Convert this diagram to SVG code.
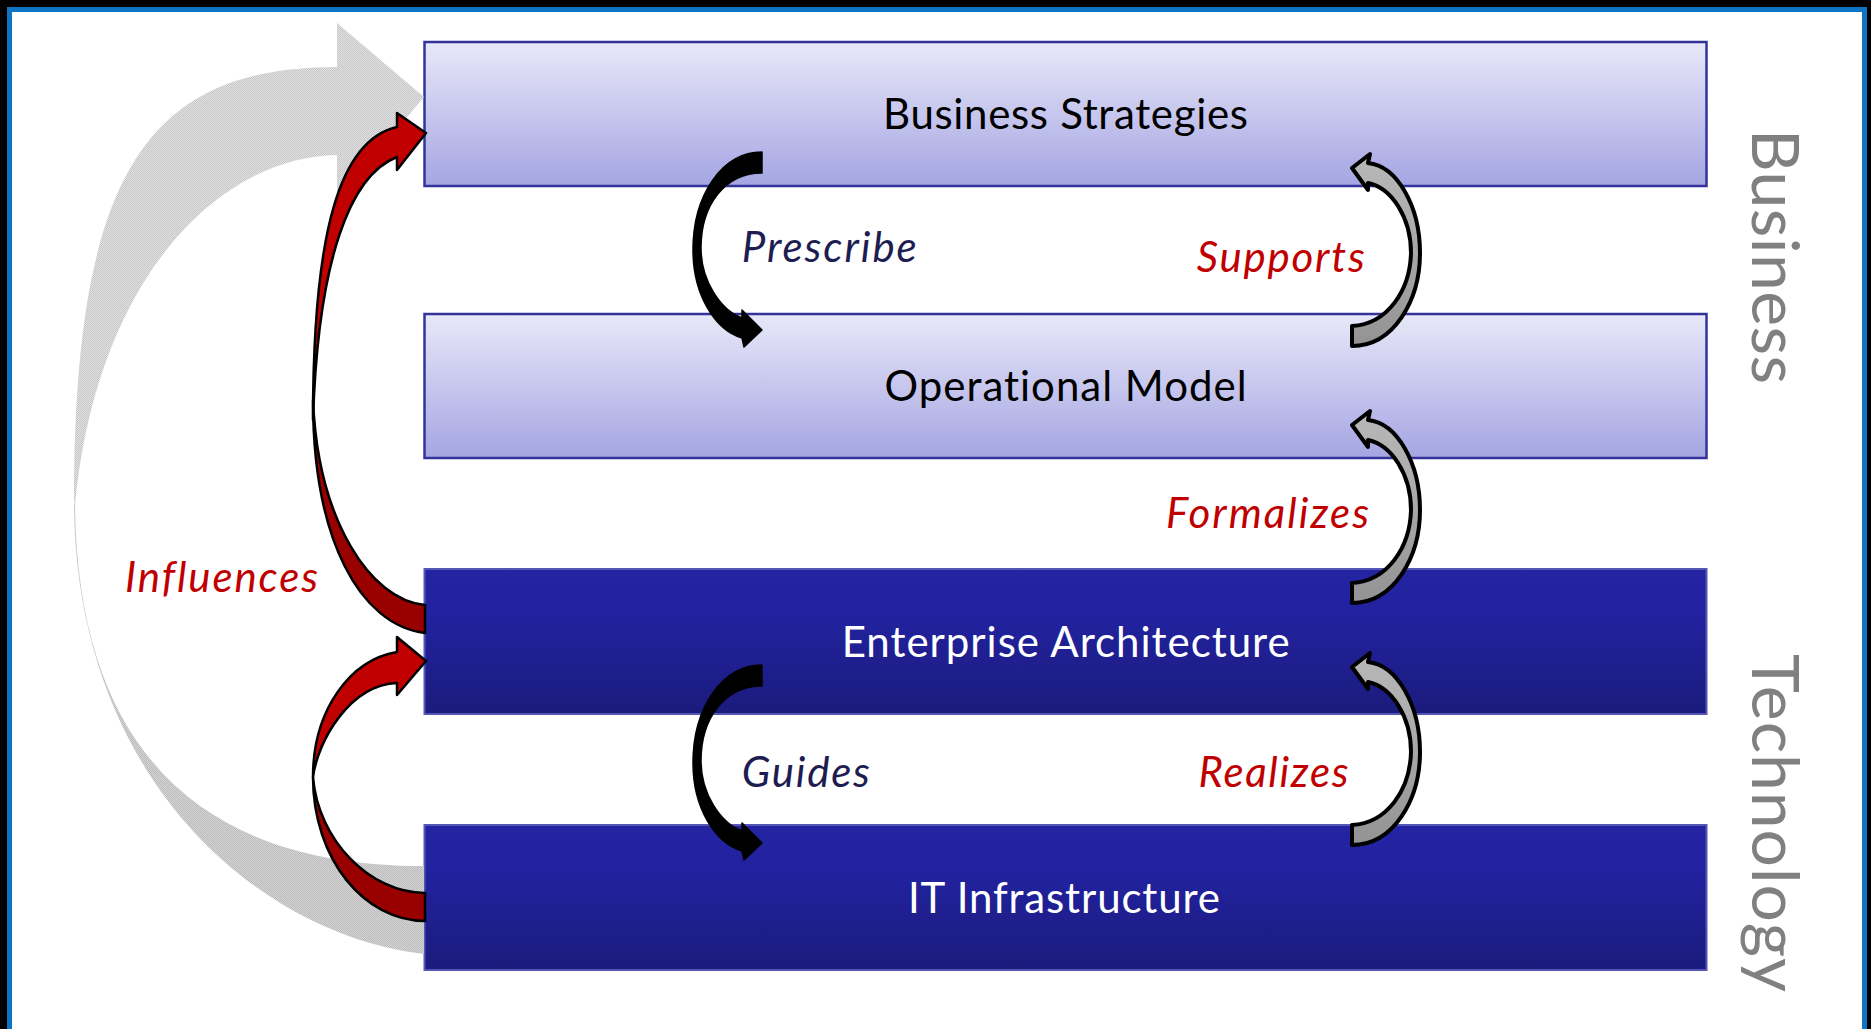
<svg xmlns="http://www.w3.org/2000/svg" width="1871" height="1029" viewBox="0 0 1871 1029">
<defs>
<style>
text{font-variant-ligatures:none}
.box-text{font-family:Lato,"Liberation Sans",sans-serif;font-size:42px}
.lbl{font-family:Lato,"Liberation Sans",sans-serif;font-size:42px;font-style:italic}
.navy{fill:#1d1d52}
.red{fill:#c00000}
.side{font-family:Lato,"Liberation Sans",sans-serif;font-size:66px;fill:#808080}
.light{stroke:#333399;stroke-width:2.5}
.dark{stroke:#5555b5;stroke-width:2}
.redarrow{stroke:#000;stroke-width:2.5;stroke-linejoin:round}
.blk{fill:#000;stroke:#000;stroke-width:1.5;stroke-linejoin:round}
.gry{fill:url(#grayGrad);stroke:#000;stroke-width:4;stroke-linejoin:round}
</style>
<linearGradient id="lightGrad" x1="0" y1="0" x2="0" y2="1">
<stop offset="0" stop-color="#e8e8f9"/>
<stop offset="1" stop-color="#a5a5e3"/>
</linearGradient>
<linearGradient id="darkGrad" x1="0" y1="0" x2="0" y2="1">
<stop offset="0" stop-color="#2424a3"/>
<stop offset="0.3" stop-color="#2222a0"/>
<stop offset="1" stop-color="#1b1b7d"/>
</linearGradient>
<linearGradient id="grayGrad" x1="0" y1="0" x2="0" y2="1">
<stop offset="0" stop-color="#b8b8b8"/>
<stop offset="0.5" stop-color="#a8a8a8"/>
<stop offset="1" stop-color="#939393"/>
</linearGradient>
<pattern id="dotsLight" width="2" height="2" patternUnits="userSpaceOnUse">
<rect width="2" height="2" fill="#e2e2e2"/>
<rect width="1" height="1" fill="#c6c6c6"/>
<rect x="1" y="1" width="1" height="1" fill="#c6c6c6"/>
</pattern>
<pattern id="dotsDark" width="2" height="2" patternUnits="userSpaceOnUse">
<rect width="2" height="2" fill="#d6d6d6"/>
<rect width="1" height="1" fill="#bababa"/>
<rect x="1" y="1" width="1" height="1" fill="#bababa"/>
</pattern>
<path id="grayArrow" d="M 16,-5 C 45,-2 68,38 68,85 C 68,132 42,178 0,178 L 0,158 C 36,156 58,122 59,85 C 59,50 40,20 16,15 L 16,22 L 0,0 L 18,-14 Z"/>
<path id="blackArrow" d="M 762,152 C 722,152 693,195 693,250 C 693,295 715,330 742,338 L 744,347 L 762,330 L 742,310 L 742,318 C 720,310 701,280 701,248 C 701,205 725,173 762,173 Z"/>
</defs>

<g id="frame">
<rect x="0" y="0" width="1871" height="1029" fill="#000"/>
<rect x="9.5" y="9.5" width="1855" height="1100" fill="#fff" stroke="#0f74c4" stroke-width="5"/>
</g>

<g id="node-business-strategies">
<rect x="424.5" y="42" width="1282" height="144" fill="url(#lightGrad)" class="light"/>
<text x="883" y="129.3" class="box-text" fill="#000" textLength="365">Business Strategies</text>
</g>
<g id="node-operational-model">
<rect x="424.5" y="314" width="1282" height="144" fill="url(#lightGrad)" class="light"/>
<text x="884.6" y="401.3" class="box-text" fill="#000" textLength="362">Operational Model</text>
</g>
<g id="node-enterprise-architecture">
<rect x="424.5" y="569" width="1282" height="145" fill="url(#darkGrad)" class="dark"/>
<text x="841.7" y="656.7" class="box-text" fill="#fff" textLength="448">Enterprise Architecture</text>
</g>
<g id="node-it-infrastructure">
<rect x="424.5" y="825" width="1282" height="145" fill="url(#darkGrad)" class="dark"/>
<text x="908" y="912.5" class="box-text" fill="#fff" textLength="312">IT Infrastructure</text>
</g>

<g id="side-labels">
<text class="side" transform="translate(1752,129) rotate(90)" textLength="255">Business</text>
<text class="side" transform="translate(1752,654) rotate(90)" textLength="338">Technology</text>
</g>

<g id="connectors">
<g id="influences-big-arrow">
<path d="M 74,500 C 74,780 260,935 424,954 L 424,866 C 210,866 78,760 75,505 Z" fill="url(#dotsDark)"/>
<path d="M 74,500 C 74,170 150,67 337,67 L 337,23 L 424,97 L 337,200 L 337,155 C 210,158 95,290 75,505 Z" fill="url(#dotsLight)"/>
</g>
<g id="influences-ea-to-bs">
<path d="M 313,400 C 313,540 360,625 425,633 L 425,605 C 370,600 318,520 313,400 Z" fill="#990000" class="redarrow"/>
<path d="M 397,127 C 340,140 313,230 313,420 C 318,260 350,175 397,157 L 397,170 L 426,133 L 397,113 Z" fill="#c00000" class="redarrow"/>
</g>
<g id="influences-it-to-ea">
<path d="M 313,777 C 313,860 365,921 425,921 L 425,893 C 370,893 318,840 313,777 Z" fill="#990000" class="redarrow"/>
<path d="M 397,652 C 350,660 313,710 313,777 C 318,740 350,685 397,683 L 397,695 L 426,661 L 397,637 Z" fill="#c00000" class="redarrow"/>
</g>
<use id="prescribe-arrow" href="#blackArrow" class="blk"/>
<use id="guides-arrow" href="#blackArrow" class="blk" transform="translate(0,513)"/>
<use id="supports-arrow" href="#grayArrow" class="gry" transform="translate(1352,168)"/>
<use id="formalizes-arrow" href="#grayArrow" class="gry" transform="translate(1352,425)"/>
<use id="realizes-arrow" href="#grayArrow" class="gry" transform="translate(1352,667)"/>
</g>

<g id="connector-labels">
<text x="741.7" y="261.7" class="lbl navy" textLength="175">Prescribe</text>
<text x="1196.7" y="271.7" class="lbl red" textLength="168">Supports</text>
<text x="1166" y="528.3" class="lbl red" textLength="203">Formalizes</text>
<text x="125" y="592.3" class="lbl red" textLength="193">Influences</text>
<text x="741.8" y="786.7" class="lbl navy" textLength="128">Guides</text>
<text x="1198.5" y="786.7" class="lbl red" textLength="150">Realizes</text>
</g>
</svg>
